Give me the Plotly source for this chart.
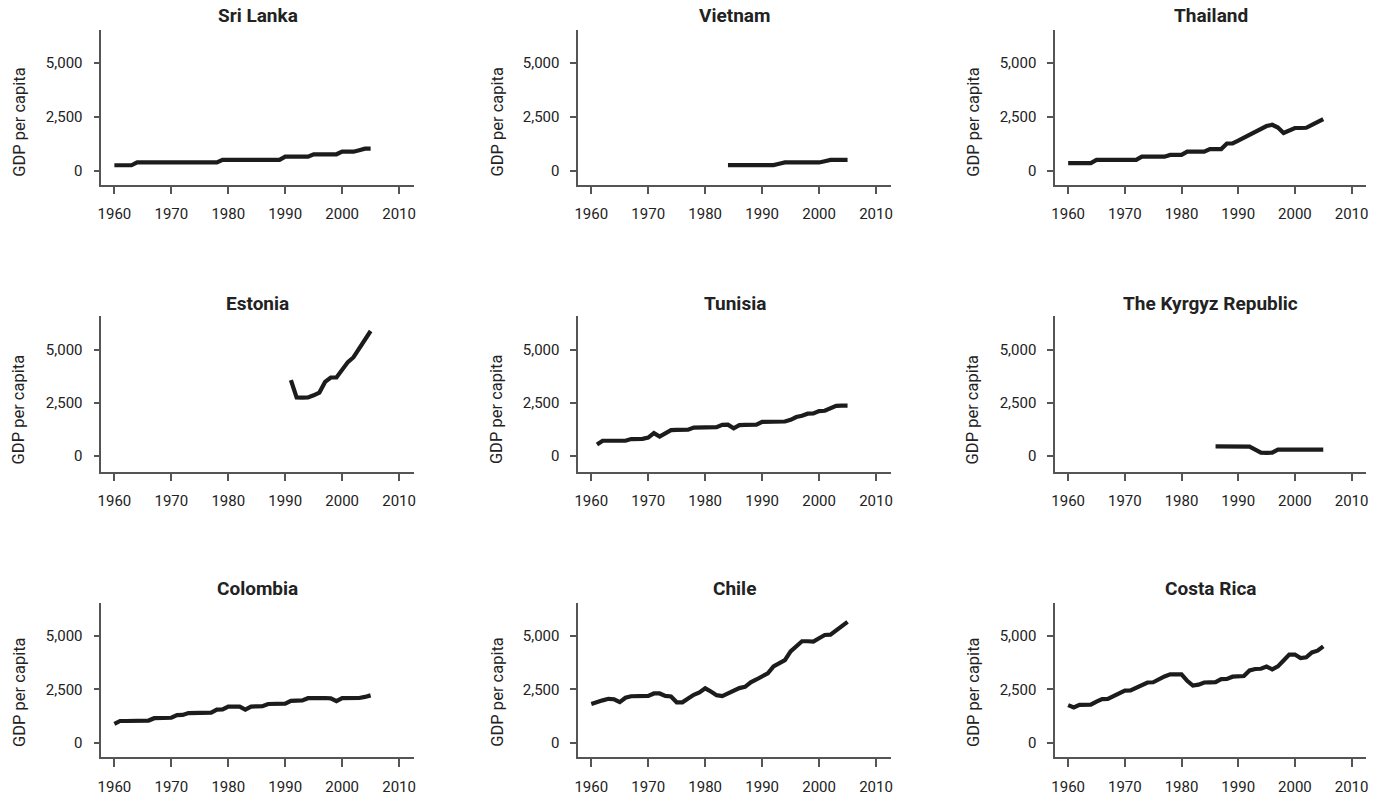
import plotly.graph_objects as go

W, H = 1380, 796

countries = ["Sri Lanka", "Vietnam", "Thailand",
             "Estonia", "Tunisia", "The Kyrgyz Republic",
             "Colombia", "Chile", "Costa Rica"]

start_years = [1960, 1984, 1960, 1991, 1961, 1986, 1960, 1960, 1960]

sri_lanka = [260, 260, 260, 260,
             390, 390, 390, 390, 390, 390, 390, 390, 390, 390, 390, 390, 390, 390, 390,
             510, 510, 510, 510, 510, 510, 510, 510, 510, 510, 510,
             660, 660, 660, 660, 660,
             770, 770, 770, 770, 770,
             890, 890, 890,
             960, 1030, 1030]

vietnam = [270, 270, 270, 270, 270, 270, 270, 270, 270,
           330,
           390, 390, 390, 390, 390, 390, 390,
           450,
           510, 510, 510, 510]

thailand = [360, 360, 360, 360, 360,
            510, 510, 510, 510, 510, 510, 510, 510,
            660, 660, 660, 660, 660,
            740, 740, 740,
            890, 890, 890, 890,
            1010, 1010, 1010,
            1270, 1280, 1400, 1540, 1700, 1850, 1960, 2080, 2140, 2010, 1760, 1900,
            1990, 1990, 2000, 2130, 2290, 2400]

estonia = [3570, 2750, 2740, 2750, 2850, 2980, 3480, 3690, 3690, 4080, 4420, 4650,
           5080, 5480, 5890]

tunisia = [520, 700, 700, 700, 700, 700, 780, 790, 790, 850, 1060, 900, 1050, 1200,
           1210, 1210, 1220, 1320, 1330, 1330, 1330, 1340, 1450, 1460, 1290, 1440, 1450,
           1450, 1460, 1590, 1600, 1600, 1600, 1610, 1690, 1820, 1880, 1980, 1990, 2100,
           2120, 2220, 2350, 2360, 2360]

kyrgyz = [430, 430, 430, 430, 430, 430, 420, 280, 140, 130, 140, 280, 280, 280, 280,
          280, 280, 280, 280, 280]

colombia = [900, 1030, 1030, 1040, 1040, 1040, 1050, 1160, 1170, 1170, 1180, 1300, 1310,
            1400, 1400, 1410, 1410, 1420, 1560, 1570, 1700, 1710, 1700, 1560, 1700, 1710,
            1720, 1820, 1820, 1830, 1840, 1970, 1980, 1990, 2090, 2100, 2100, 2100, 2080,
            1950, 2090, 2090, 2100, 2100, 2150, 2220]

chile = [1820, 1930, 1990, 2060, 2040, 1910, 2110, 2180, 2180, 2180, 2200, 2310, 2310,
         2200, 2170, 1900, 1900, 2080, 2250, 2360, 2550, 2400, 2230, 2190, 2320, 2460,
         2560, 2620, 2830, 2960, 3080, 3250, 3570, 3720, 3860, 4270, 4500, 4740, 4740,
         4720, 4880, 5030, 5050, 5230, 5440, 5640]

costa_rica = [1770, 1660, 1780, 1780, 1790, 1930, 2050, 2060, 2200, 2310, 2440, 2450,
              2590, 2700, 2820, 2830, 2980, 3100, 3200, 3210, 3200, 2900, 2680, 2720,
              2820, 2830, 2840, 2980, 2990, 3090, 3100, 3120, 3380, 3450, 3460, 3560,
              3430, 3570, 3840, 4120, 4120, 3960, 3990, 4220, 4300, 4500]

series = [sri_lanka, vietnam, thailand, estonia, tunisia, kyrgyz,
          colombia, chile, costa_rica]

x_ticks = [1960, 1970, 1980, 1990, 2000, 2010]
y_ticks = [0, 2500, 5000]
y_tick_labels = ["0", "2,500", "5,000"]
y_title = "GDP per capita"

# layout geometry (pixels)
col_px = [(97.7, 411.7), (576.7, 890.7), (1055.7, 1368.3)]
row_px = [(30.0, 185.0), (316.7, 472.7), (604.5, 759.3)]
row_yrange = [(-634, 6542), (-755, 6604), (-664, 6520)]
x_range = [1957.7, 2012.6]
title_y_px = [15.5, 304.5, 589.5]
ytitle_y_px = [121.7, 410.0, 693.3]
ytitle_x_px = [15.5, 495.3, 973.7]

FONT = "Roboto, Liberation Sans, sans-serif"
AXIS_COLOR = "#555555"
TEXT_COLOR = "#222222"

fig = go.Figure()
annotations = []
for i, (name, start, vals) in enumerate(zip(countries, start_years, series)):
    r, c = divmod(i, 3)
    k = i + 1
    xa = "x" if k == 1 else f"x{k}"
    ya = "y" if k == 1 else f"y{k}"
    years = [start + j for j in range(len(vals))]
    fig.add_trace(go.Scatter(x=years, y=vals, mode="lines", xaxis=xa, yaxis=ya,
                             line=dict(color="#1c1c1c", width=4.2),
                             showlegend=False, hoverinfo="x+y"))
    x0, x1 = col_px[c]
    y0, y1 = row_px[r]
    xkey = "xaxis" if k == 1 else f"xaxis{k}"
    ykey = "yaxis" if k == 1 else f"yaxis{k}"
    fig.update_layout(**{
        xkey: dict(domain=[x0 / W, x1 / W], anchor=ya, range=x_range,
                   showline=True, linecolor=AXIS_COLOR, linewidth=1.5,
                   ticks="outside", ticklen=8, tickwidth=1.5, tickcolor=AXIS_COLOR,
                   tickvals=x_ticks, showgrid=False, zeroline=False,
                   ticklabelstandoff=7,
                   tickfont=dict(family=FONT, size=15, color=TEXT_COLOR)),
        ykey: dict(domain=[1 - y1 / H, 1 - y0 / H], anchor=xa,
                   range=list(row_yrange[r]),
                   showline=True, linecolor=AXIS_COLOR, linewidth=1.5,
                   ticks="outside", ticklen=6, tickwidth=1.5, tickcolor=AXIS_COLOR,
                   tickvals=y_ticks, ticktext=y_tick_labels,
                   showgrid=False, zeroline=False, ticklabelstandoff=8,
                   tickfont=dict(family=FONT, size=15, color=TEXT_COLOR)),
    })
    annotations.append(dict(text=f"<b>{name}</b>", xref="paper", yref="paper",
                            x=(x0 + x1) / 2 / W, y=1 - title_y_px[r] / H,
                            xanchor="center", yanchor="middle", showarrow=False,
                            font=dict(family=FONT, size=19, color=TEXT_COLOR)))
    annotations.append(dict(text=y_title, xref="paper", yref="paper",
                            x=ytitle_x_px[c] / W, y=1 - ytitle_y_px[r] / H,
                            xanchor="center", yanchor="middle", textangle=-90,
                            showarrow=False,
                            font=dict(family=FONT, size=16.5, color=TEXT_COLOR)))

fig.update_layout(width=W, height=H, margin=dict(l=0, r=0, t=0, b=0),
                  paper_bgcolor="white", plot_bgcolor="white",
                  annotations=annotations, showlegend=False)

fig.write_html("out.html", config={"displayModeBar": False},
               post_script="document.body.style.margin='0';"
                           "document.body.style.overflow='hidden';")
